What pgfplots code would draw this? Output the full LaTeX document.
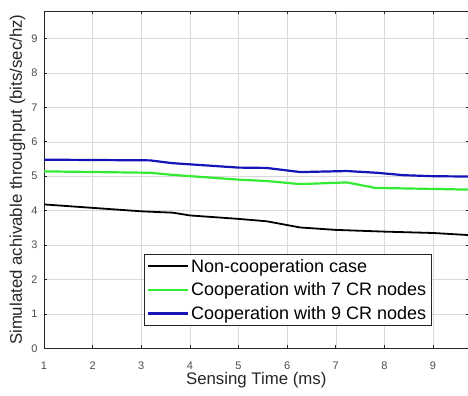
\documentclass[border=0pt]{standalone}
\usepackage{pgfplots}
\pgfplotsset{compat=1.18}
\usepackage{fontspec}
\setmainfont{Liberation Sans}
\definecolor{mblue}{rgb}{0.08,0.08,0.72}
\definecolor{mgreen}{rgb}{0.2,0.92,0.2}
\definecolor{axgray}{rgb}{0.15,0.15,0.15}
\definecolor{gridgray}{rgb}{0.85,0.85,0.85}
\begin{document}
\begin{tikzpicture}
\begin{axis}[
  name=ax,
  scale only axis,
  width=424.5pt, height=337.3pt,
  xmin=1, xmax=9.73, ymin=0, ymax=9.8,
  xtick={1,2,...,9}, ytick={0,1,...,9},
  tick align=inside,
  major tick length=3pt,
  axis line style={axgray, line width=0.6pt},
  tick style={axgray, line width=0.6pt},
  grid=major,
  major grid style={gridgray, line width=0.5pt},
  /pgf/number format/assume math mode=true,
  tick label style={font=\fontsize{11}{12}\selectfont, text=black!70},
  xticklabel style={yshift=-10pt},
  yticklabel style={xshift=-3pt},
  xlabel={Sensing Time (ms)},
  ylabel={Simulated achivable throughput (bits/sec/hz)},
  label style={font=\fontsize{16.8}{19}\selectfont, text=black!85},
  xlabel style={yshift=4pt},
  ylabel style={yshift=-1pt},
  legend style={at={(0.913,0.066)}, anchor=south east,
    font=\fontsize{18}{21}\selectfont, draw=axgray, line width=0.6pt,
    inner xsep=3pt, inner ysep=3pt, row sep=5pt,
    cells={anchor=west}},
  legend image code/.code={\draw[#1] (0pt,0pt) -- (40pt,0pt);},
  legend cell align=left,
]
\addplot[black, line width=1.8pt] coordinates {
(1,4.18) (2,4.08) (3,3.98) (3.65,3.94) (4,3.86) (5,3.76) (5.58,3.69)
(6.27,3.51) (7,3.44) (8,3.39) (9,3.35) (9.73,3.29)};
\addlegendentry{Non-cooperation case}
\addplot[mgreen, line width=2.2pt] coordinates {
(1,5.14) (3.18,5.10) (3.63,5.04) (5,4.90) (5.58,4.86) (6.27,4.77)
(7.23,4.82) (7.81,4.66) (9,4.63) (9.73,4.61)};
\addlegendentry{Cooperation with 7 CR nodes}
\addplot[mblue, line width=2.2pt] coordinates {
(1,5.48) (3.18,5.46) (3.63,5.38) (5,5.25) (5.58,5.24) (6.27,5.12)
(7.23,5.15) (7.84,5.10) (8.39,5.03) (9,5.00) (9.73,4.99)};
\addlegendentry{Cooperation with 9 CR nodes}
\end{axis}
\pgfresetboundingbox
\path[use as bounding box] ([shift={(-44pt,-47.7pt)}]ax.south west) rectangle ([shift={(-0.5pt,11pt)}]ax.north east);
\end{tikzpicture}
\end{document}
